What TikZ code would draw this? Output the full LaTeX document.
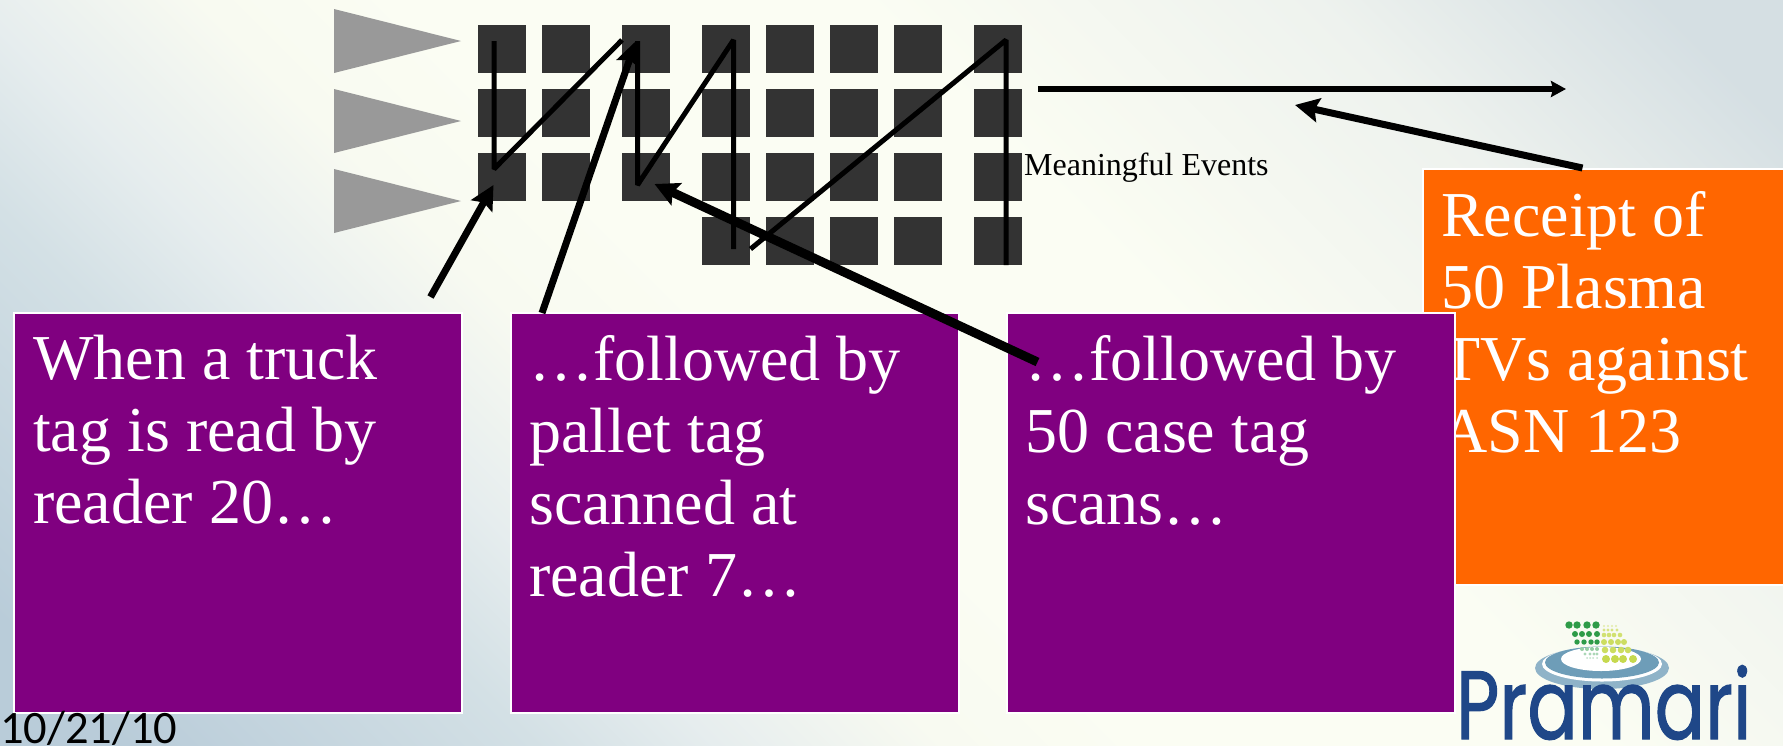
\documentclass[tikz,border=0pt]{standalone}
\usepackage{fontspec}
\setmainfont{Liberation Serif}
\newfontfamily\datefont{Carlito}
\newfontfamily\logofont[FakeBold=1.3]{Poppins}
\usetikzlibrary{arrows.meta,positioning,calc}
\definecolor{cream}{HTML}{FBFDF3}
\definecolor{hazeA}{HTML}{B9CCD9}
\definecolor{hazeB}{HTML}{D3E0E5}
\definecolor{hazeC}{HTML}{E6EDEE}
\definecolor{hazeD}{HTML}{F8FAF1}
\definecolor{hazeE}{HTML}{EEF2EE}
\definecolor{hazeF}{HTML}{D5DFE3}
\definecolor{cell}{HTML}{333333}
\definecolor{wedge}{HTML}{999999}
\definecolor{plum}{HTML}{800080}
\definecolor{tang}{HTML}{FF6600}
\definecolor{logoblue}{HTML}{1F4788}
\definecolor{ringblue}{HTML}{6E9DB8}
\definecolor{ringpale}{HTML}{8FB3C8}
\definecolor{dotdark}{HTML}{2E9B48}
\definecolor{dotlite}{HTML}{C6D94E}
\newcommand{\CellW}{48}
\newcommand{\CellH}{48}
\pgfdeclarehorizontalshading{slidewash}{100bp}{
  color(0bp)=(hazeA); color(18bp)=(hazeA); color(29.5bp)=(hazeB); color(34.6bp)=(hazeC);
  color(41bp)=(hazeD); color(46.8bp)=(cream); color(59.6bp)=(cream);
  color(72.4bp)=(hazeE); color(82bp)=(hazeF); color(100bp)=(hazeF)}

\begin{document}
\begin{tikzpicture}[
    x=1pt, y=-1pt,
    cellbox/.style={fill=cell, minimum width=\CellW pt, minimum height=\CellH pt, inner sep=0pt, outer sep=0pt},
    tri/.style={fill=wedge, draw=none},
    noteplum/.style={fill=plum, draw=white, line width=2pt, anchor=north west, minimum width=448pt, minimum height=400pt, inner sep=0pt, outer sep=0pt},
    notetang/.style={fill=tang, draw=white, line width=2pt, anchor=north west, minimum width=368pt, minimum height=416pt, inner sep=0pt, outer sep=0pt},
    notetext/.style={text=white, anchor=north west, align=left, inner sep=0pt, font=\fontsize{64}{72}\selectfont},
    scan/.style={draw=black, line width=5pt, line join=bevel},
    pointer/.style={-{Stealth[length=24pt, width=24pt, inset=4pt]}, draw=black, line width=7pt},
    flow/.style={-{Stealth[length=15pt, width=16pt, inset=2pt]}, draw=black, line width=6pt},
  ]
\useasboundingbox (0,0) rectangle (1783,745);
\shade[shading=slidewash, shading angle=45] (0,0) rectangle (1783,745);

% The input wedges, one for each row of tags.
\foreach \n/\ytop in {0/9, 1/89, 2/169} {
  \draw[tri] (334,\ytop) -- (461,\ytop+32) -- (334,\ytop+64) -- cycle;
}

% The tag grid: three full rows, and a short fourth one.
\foreach \cx [count=\c] in {502,566,646,726,790,854,918,998} {
  \foreach \cy [count=\r] in {49,113,177} {
    \node[cellbox] (c\r\c) at (\cx,\cy) {};
  }
}
\foreach \cx [count=\c from 4] in {726,790,854,918,998} {
  \node[cellbox] (c4\c) at (\cx,241) {};
}

% Ends of the scan lines and of the pointers.
\coordinate (s1) at (494,41);
\coordinate (s2) at (494,169);
\coordinate (s3) at (622,40);
\coordinate (s4) at (637.5,41);
\coordinate (s5) at (637.5,185);
\coordinate (s6) at (733.5,40);
\coordinate (s7) at (733.5,249);
\coordinate (s8) at (750.5,249);
\coordinate (s9) at (1006,40);
\coordinate (s10) at (1006,265);
\draw[scan] (s1) -- (s2) -- (s3);
\draw[scan] (s4) -- (s5) -- (s6) -- (s7);
\draw[scan] (s8) -- (s9) -- (s10);

\node[anchor=base west, inner sep=0pt, font=\fontsize{32}{36}\selectfont] (evlabel) at (1024,175) {Meaningful Events};

% Orange note goes first, the third purple note sits on top of it.
\node[notetang] (note4) at (1423,169) {};
\node[notetext] (text4) at (1441,191.3) {Receipt of\\50 Plasma\\TVs against\\ASN 123};
\foreach \n/\bx/\tx/\body in {
    1/14/33/{When a truck\\tag is read by\\reader 20…},
    2/510.5/529/{…followed by\\pallet tag\\scanned at\\reader 7…},
    3/1006.5/1025/{…followed by\\50 case tag\\scans…}} {
  \node[noteplum] (note\n) at (\bx,313) {};
  \node[notetext] (text\n) at (\tx,335.3) {\body};
}

\coordinate (a1) at (430.5,297);
\coordinate (a1t) at (493.5,185);
\coordinate (a2) at (542,313);
\coordinate (a2t) at (636,41);
\coordinate (a3) at (1037.5,362);
\coordinate (a3t) at (654.5,184);
\coordinate (a4) at (1582.5,168);
\coordinate (a4t) at (1295,105);
\coordinate (f1) at (1038,89);
\coordinate (f2) at (1566,89);
\draw[pointer] (a1) -- (a1t);
\draw[pointer] (a2) -- (a2t);
\draw[pointer, line width=9pt] (a3) -- (a3t);
\draw[pointer] (a4) -- (a4t);
\draw[flow] (f1) -- (f2);

% The logo, bottom right.
\fill[ringpale] (1602,668) ellipse (67 and 21);
\fill[white] (1602,664) ellipse (60 and 17.5);
\fill[ringblue] (1602,662.5) ellipse (57 and 16);
\fill[white] (1601,659) ellipse (40 and 12);
\foreach \yy/\rr/\op/\xa/\xb/\xc/\xd in {
    625/3.7/100/1569/1577/1587/1596,
    634/3/100/1575/1582/1589/1597,
    642/2.7/100/1577/1584/1591/1597,
    649/2/50/1582/1587/1592/1597,
    654/1.7/40/1585/1590/1594/1597,
    658/1/30/1587/1590/1593/1597} {
  \foreach \xx in {\xa,\xb,\xc,\xd} {
    \fill[dotdark!\op!white] (\xx,\yy) circle (\rr);
  }
}
\foreach \yy/\rr/\op/\xa/\xb/\xc/\xd in {
    626/1.2/50/1604/1608/1612/1616,
    630/1.7/70/1604/1608/1612/1617,
    635/2.3/80/1604/1609/1614/1620,
    642/3/90/1604/1611/1618/1624,
    650/3.3/90/1605/1613/1621/1628,
    659/4/100/1606/1615/1623/1633} {
  \foreach \xx in {\xa,\xb,\xc,\xd} {
    \fill[dotlite!\op!white] (\xx,\yy) circle (\rr);
  }
}
\node[anchor=base west, inner sep=0pt, text=logoblue, font=\logofont\fontsize{97}{97}\selectfont, xscale=.77, transform shape] (logo) at (1456,739) {Pramari};

\node[anchor=base west, inner sep=0pt, text=black, font=\datefont\fontsize{46.5}{46.5}\selectfont] (date) at (0,743) {10/21/10};

\end{tikzpicture}
\end{document}
